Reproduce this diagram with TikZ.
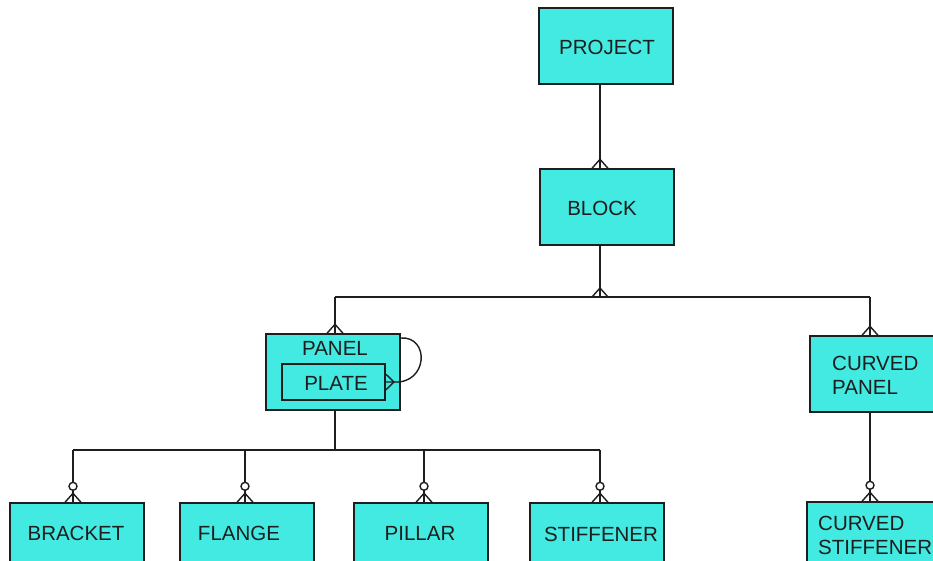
\documentclass[tikz,border=0pt]{standalone}
\usepackage{fontspec}
\setmainfont{Liberation Sans}
\usetikzlibrary{calc}
\definecolor{entc}{RGB}{66,234,226}
\definecolor{ink}{RGB}{30,30,30}
\newcommand\crowfoot[2]{% #1 point on edge, #2 direction vector to apex (length 9)
  \draw[conn] ($(#1)+(-8,0)$) -- ($(#1)+(0,-9)$) -- ($(#1)+(8,0)$);}
\newcommand\crowfootup[1]{%
  \draw[conn] ($(#1)+(-8,0)$) -- ($(#1)+(0,-9)$) -- ($(#1)+(8,0)$);}
\newcommand\zerocirc[1]{%
  \draw[conn,fill=white] ($(#1)+(0,-16)$) circle (4pt);}
\begin{document}
\begin{tikzpicture}[x=1pt,y=-1pt,
  ent/.style={draw=ink, fill=entc, line width=1.4pt, minimum width=134pt, minimum height=76pt, inner sep=0pt},
  lbl/.style={font=\fontsize{20.5}{24}\selectfont, inner sep=0pt, text=ink},
  conn/.style={line width=1.4pt, draw=ink}]
\useasboundingbox (0,0) rectangle (933,560);
\fill[white] (0,0) rectangle (933,560);
\clip (0,0) rectangle (933,560);
% entities
\node[ent] (project) at (606,46) {};
\node[ent] (block) at (607,207) {};
\node[ent] (panel) at (333,372) {};
\node[ent, minimum width=103pt, minimum height=36pt] (plate) at (333.5,382) {};
\node[ent] (cpanel) at (877,374) {};
\node[ent] (bracket) at (77,541) {};
\node[ent] (flange) at (247,541) {};
\node[ent] (pillar) at (421,541) {};
\node[ent] (stiff) at (597,541) {};
\node[ent] (cstiff) at (874,540) {};
% labels
\node[lbl] (tproject) at (607,47) {PROJECT};
\node[lbl] (tblock) at (602,208) {BLOCK};
\node[lbl] (tpanel) at (335,348) {PANEL};
\node[lbl] (tplate) at (336,383) {PLATE};
\node[lbl, anchor=west, align=left] (tcpanel) at (832,375) {CURVED\\PANEL};
\node[lbl] (tbracket) at (76,533) {BRACKET};
\node[lbl] (tflange) at (239,533) {FLANGE};
\node[lbl] (tpillar) at (420,533) {PILLAR};
\node[lbl] (tstiff) at (601,534) {STIFFENER};
\node[lbl, anchor=west, align=left] (tcstiff) at (818,535) {CURVED\\STIFFENER};
% bus coordinates
\coordinate (bA) at (600,297);
\coordinate (bL) at (335,297);
\coordinate (bR) at (870,297);
\coordinate (lA) at (335,450);
\coordinate (l1) at (73,450);
\coordinate (l2) at (245,450);
\coordinate (l3) at (424,450);
\coordinate (l4) at (600,450);
\coordinate (cA) at (870,412);
% project - block
\draw[conn] (project.south -| bA) -- (block.north -| bA);
\crowfootup{block.north -| bA}
% block - bus
\draw[conn] (block.south -| bA) -- (bA);
\draw[conn] (bL) -- (bR);
\crowfootup{bA}
\draw[conn] (bL) -- (panel.north -| bL);
\crowfootup{panel.north -| bL}
\draw[conn] (bR) -- (cpanel.north -| bR);
\crowfootup{cpanel.north -| bR}
% self loop
\draw[conn] (panel.east |- 0,338) .. controls (430,336) and (428,384) .. (394,382) -- (plate.east |- 0,382);
\draw[conn] (plate.east |- 0,374) -- (394,382) -- (plate.east |- 0,390);
% panel - children
\draw[conn] (panel.south -| lA) -- (lA);
\draw[conn] (l1) -- (l4);
\foreach \c/\n in {l1/bracket, l2/flange, l3/pillar, l4/stiff}{
  \draw[conn] (\c) -- (\n.north -| \c);
  \zerocirc{\n.north -| \c}
  \crowfootup{\n.north -| \c}
}
% curved panel - curved stiffener
\draw[conn] (cpanel.south -| cA) -- (cstiff.north -| cA);
\zerocirc{cstiff.north -| cA}
\crowfootup{cstiff.north -| cA}
\end{tikzpicture}
\end{document}
